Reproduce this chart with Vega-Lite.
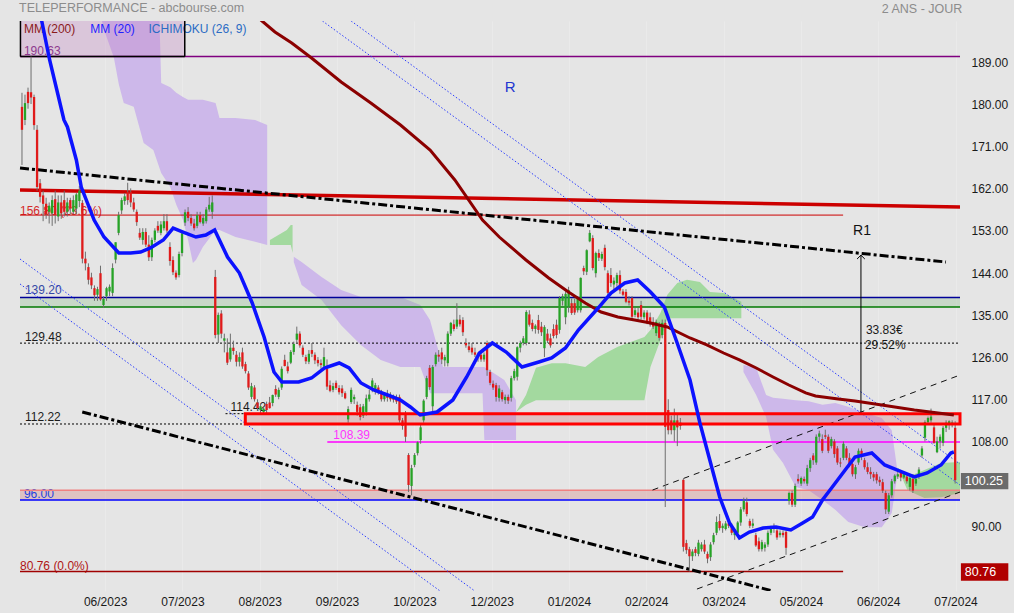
{
"$schema":"https://vega.github.io/schema/vega-lite/v6.json",
"width":950,"height":570,
"autosize":{"type":"none"},
"padding":{"left":15,"top":21,"right":49,"bottom":22},
"background":"#e5e5e5",
"config":{"view":{"stroke":null},"text":{"font":"Liberation Sans"},"axis":{"labelFont":"Liberation Sans"}},
"resolve":{"scale":{"color":"independent"}},
"datasets":{
"candles":[
{"i":5,"o":179.9,"h":182.9,"l":167.5,"c":175.0},
{"i":6,"o":177.1,"h":182.5,"l":176.0,"c":180.7},
{"i":7,"o":183.1,"h":184.0,"l":179.5,"c":180.7},
{"i":8,"o":183.0,"h":190.63,"l":180.5,"c":181.9},
{"i":9,"o":182.0,"h":182.5,"l":175.0,"c":176.0},
{"i":10,"o":175.0,"h":176.0,"l":162.0,"c":162.8},
{"i":11,"o":163.6,"h":164.5,"l":159.5,"c":160.7},
{"i":12,"o":161.0,"h":162.0,"l":155.5,"c":159.2},
{"i":13,"o":159.2,"h":160.5,"l":156.0,"c":157.0},
{"i":14,"o":157.5,"h":159.5,"l":155.0,"c":158.8},
{"i":15,"o":157.2,"h":161.0,"l":154.5,"c":160.0},
{"i":16,"o":160.2,"h":162.0,"l":155.0,"c":156.8},
{"i":17,"o":156.5,"h":161.0,"l":155.5,"c":159.5},
{"i":18,"o":159.5,"h":161.0,"l":156.0,"c":157.2},
{"i":19,"o":160.0,"h":162.0,"l":156.5,"c":157.5},
{"i":20,"o":157.5,"h":160.5,"l":156.5,"c":159.5},
{"i":21,"o":160.0,"h":160.5,"l":157.0,"c":158.2},
{"i":22,"o":157.5,"h":161.0,"l":157.0,"c":160.0},
{"i":23,"o":158.2,"h":161.5,"l":157.0,"c":161.2},
{"i":24,"o":159.8,"h":163.0,"l":158.5,"c":162.0},
{"i":25,"o":159.4,"h":160.0,"l":146.5,"c":147.5},
{"i":26,"o":147.5,"h":149.0,"l":145.0,"c":146.5},
{"i":27,"o":145.7,"h":146.5,"l":142.0,"c":143.0},
{"i":28,"o":143.5,"h":144.5,"l":141.0,"c":141.8},
{"i":29,"o":141.2,"h":141.8,"l":138.5,"c":139.7},
{"i":30,"o":139.8,"h":141.5,"l":138.5,"c":141.0},
{"i":31,"o":144.4,"h":146.0,"l":138.5,"c":138.8},
{"i":32,"o":137.6,"h":139.5,"l":137.0,"c":138.9},
{"i":33,"o":139.5,"h":141.5,"l":138.5,"c":141.2},
{"i":34,"o":140.5,"h":142.0,"l":139.5,"c":141.5},
{"i":35,"o":140.2,"h":146.5,"l":139.5,"c":145.5},
{"i":36,"o":147.3,"h":151.0,"l":146.5,"c":151.0},
{"i":37,"o":153.0,"h":157.5,"l":152.5,"c":156.8},
{"i":38,"o":157.8,"h":160.5,"l":157.0,"c":160.0},
{"i":39,"o":159.8,"h":161.5,"l":159.0,"c":160.8},
{"i":40,"o":161.7,"h":163.7,"l":159.0,"c":160.0},
{"i":41,"o":161.7,"h":162.5,"l":158.5,"c":159.5},
{"i":42,"o":159.5,"h":160.5,"l":157.5,"c":158.0},
{"i":43,"o":157.5,"h":158.0,"l":154.5,"c":155.3},
{"i":44,"o":153.0,"h":154.0,"l":151.5,"c":152.0},
{"i":45,"o":151.5,"h":154.0,"l":150.5,"c":153.2},
{"i":46,"o":153.2,"h":154.0,"l":150.0,"c":150.5},
{"i":47,"o":150.5,"h":152.5,"l":147.0,"c":147.8},
{"i":48,"o":147.8,"h":152.0,"l":147.0,"c":151.5},
{"i":49,"o":151.5,"h":154.0,"l":151.0,"c":153.5},
{"i":50,"o":154.5,"h":155.5,"l":153.0,"c":153.5},
{"i":51,"o":153.0,"h":155.5,"l":152.5,"c":154.8},
{"i":52,"o":154.0,"h":157.0,"l":153.5,"c":155.5},
{"i":53,"o":155.5,"h":157.0,"l":153.0,"c":153.5},
{"i":54,"o":150.0,"h":151.0,"l":146.0,"c":147.0},
{"i":55,"o":147.2,"h":148.0,"l":144.0,"c":144.6},
{"i":56,"o":144.5,"h":145.0,"l":143.0,"c":143.5},
{"i":57,"o":144.0,"h":149.0,"l":143.5,"c":148.5},
{"i":58,"o":148.7,"h":153.2,"l":148.0,"c":152.9},
{"i":59,"o":155.2,"h":158.0,"l":154.5,"c":157.4},
{"i":60,"o":157.5,"h":158.5,"l":155.5,"c":156.2},
{"i":61,"o":156.2,"h":157.0,"l":154.5,"c":155.0},
{"i":62,"o":155.0,"h":156.0,"l":153.5,"c":154.0},
{"i":63,"o":154.5,"h":157.5,"l":154.0,"c":156.8},
{"i":64,"o":156.8,"h":157.5,"l":155.0,"c":155.3},
{"i":65,"o":155.0,"h":157.0,"l":154.5,"c":156.2},
{"i":66,"o":155.5,"h":158.5,"l":155.0,"c":158.0},
{"i":67,"o":158.0,"h":160.7,"l":157.5,"c":159.0},
{"i":68,"o":157.5,"h":161.0,"l":156.0,"c":159.5},
{"i":69,"o":143.6,"h":145.1,"l":130.5,"c":131.2},
{"i":70,"o":131.3,"h":136.0,"l":129.5,"c":135.5},
{"i":71,"o":135.8,"h":136.5,"l":130.5,"c":131.5},
{"i":72,"o":130.0,"h":131.5,"l":127.5,"c":130.5},
{"i":73,"o":127.5,"h":130.5,"l":124.8,"c":125.3},
{"i":74,"o":126.0,"h":131.5,"l":125.5,"c":128.5},
{"i":75,"o":128.5,"h":130.0,"l":127.0,"c":127.8},
{"i":76,"o":127.0,"h":127.8,"l":124.5,"c":125.5},
{"i":77,"o":125.5,"h":127.5,"l":124.5,"c":126.5},
{"i":78,"o":127.5,"h":128.5,"l":124.0,"c":124.5},
{"i":79,"o":125.0,"h":125.5,"l":123.0,"c":123.5},
{"i":80,"o":123.0,"h":123.5,"l":119.5,"c":120.0},
{"i":81,"o":118.0,"h":121.0,"l":117.5,"c":120.3},
{"i":82,"o":120.0,"h":120.5,"l":117.0,"c":117.5},
{"i":83,"o":116.8,"h":117.5,"l":115.0,"c":115.6},
{"i":84,"o":115.2,"h":116.5,"l":114.6,"c":116.0},
{"i":85,"o":114.8,"h":116.0,"l":114.42,"c":115.5},
{"i":86,"o":116.5,"h":117.0,"l":114.5,"c":115.2},
{"i":87,"o":116.8,"h":118.0,"l":115.5,"c":115.6},
{"i":88,"o":116.7,"h":118.5,"l":116.0,"c":118.4},
{"i":89,"o":119.7,"h":120.5,"l":118.0,"c":118.5},
{"i":90,"o":118.0,"h":120.0,"l":117.5,"c":119.5},
{"i":91,"o":120.0,"h":124.5,"l":119.5,"c":124.0},
{"i":92,"o":125.9,"h":127.0,"l":124.5,"c":124.6},
{"i":93,"o":124.5,"h":125.5,"l":123.0,"c":123.5},
{"i":94,"o":125.3,"h":128.0,"l":125.0,"c":127.6},
{"i":95,"o":127.6,"h":129.8,"l":127.0,"c":129.3},
{"i":96,"o":130.2,"h":133.0,"l":129.5,"c":131.5},
{"i":97,"o":131.5,"h":132.0,"l":128.5,"c":129.0},
{"i":98,"o":128.5,"h":129.0,"l":126.5,"c":127.0},
{"i":99,"o":126.5,"h":127.0,"l":125.0,"c":125.6},
{"i":100,"o":125.5,"h":128.0,"l":125.0,"c":127.2},
{"i":101,"o":128.0,"h":129.5,"l":126.5,"c":127.2},
{"i":102,"o":127.0,"h":127.5,"l":125.0,"c":125.8},
{"i":103,"o":125.9,"h":126.5,"l":124.5,"c":125.2},
{"i":104,"o":125.2,"h":126.0,"l":124.0,"c":124.8},
{"i":105,"o":124.5,"h":128.5,"l":124.0,"c":126.5},
{"i":106,"o":124.0,"h":126.0,"l":119.5,"c":120.2},
{"i":107,"o":120.5,"h":121.5,"l":119.0,"c":119.3},
{"i":108,"o":119.5,"h":121.0,"l":119.0,"c":120.3},
{"i":109,"o":121.0,"h":121.5,"l":119.5,"c":119.9},
{"i":110,"o":119.9,"h":120.5,"l":118.5,"c":119.0},
{"i":111,"o":119.8,"h":120.5,"l":118.0,"c":118.8},
{"i":112,"o":118.8,"h":119.2,"l":117.5,"c":117.7},
{"i":113,"o":113.2,"h":116.0,"l":112.5,"c":115.4},
{"i":114,"o":116.9,"h":120.0,"l":116.5,"c":119.5},
{"i":115,"o":117.5,"h":118.5,"l":116.5,"c":118.0},
{"i":116,"o":116.3,"h":117.0,"l":114.0,"c":114.8},
{"i":117,"o":115.8,"h":116.5,"l":113.0,"c":113.7},
{"i":118,"o":114.0,"h":116.5,"l":113.5,"c":116.0},
{"i":119,"o":114.8,"h":118.5,"l":114.0,"c":117.7},
{"i":120,"o":117.5,"h":119.5,"l":117.0,"c":118.5},
{"i":121,"o":120.0,"h":122.0,"l":119.0,"c":121.5},
{"i":122,"o":119.5,"h":121.0,"l":118.5,"c":120.5},
{"i":123,"o":120.0,"h":120.5,"l":118.5,"c":119.0},
{"i":124,"o":119.0,"h":119.5,"l":117.0,"c":117.5},
{"i":125,"o":117.5,"h":119.0,"l":117.0,"c":118.5},
{"i":126,"o":118.5,"h":119.5,"l":117.0,"c":117.8},
{"i":127,"o":118.0,"h":119.0,"l":117.0,"c":117.5},
{"i":128,"o":117.8,"h":118.5,"l":116.8,"c":117.4},
{"i":129,"o":117.5,"h":118.5,"l":116.5,"c":117.0},
{"i":130,"o":118.0,"h":118.5,"l":112.5,"c":113.0},
{"i":131,"o":113.0,"h":113.5,"l":111.0,"c":111.8},
{"i":132,"o":114.5,"h":115.0,"l":108.39,"c":109.5},
{"i":133,"o":105.6,"h":106.0,"l":97.7,"c":99.2},
{"i":134,"o":99.0,"h":103.5,"l":97.0,"c":102.8},
{"i":135,"o":103.5,"h":106.0,"l":103.0,"c":105.6},
{"i":136,"o":106.0,"h":108.5,"l":105.5,"c":108.3},
{"i":137,"o":108.8,"h":112.0,"l":108.0,"c":111.5},
{"i":138,"o":113.0,"h":117.5,"l":112.5,"c":117.2},
{"i":139,"o":118.0,"h":122.5,"l":117.5,"c":122.0},
{"i":140,"o":124.2,"h":124.8,"l":119.5,"c":120.1},
{"i":141,"o":116.0,"h":124.8,"l":114.5,"c":124.4},
{"i":142,"o":125.0,"h":127.5,"l":124.5,"c":127.0},
{"i":143,"o":127.0,"h":128.0,"l":125.5,"c":126.6},
{"i":144,"o":127.5,"h":128.5,"l":125.0,"c":126.0},
{"i":145,"o":125.8,"h":127.0,"l":124.5,"c":126.5},
{"i":146,"o":125.2,"h":132.0,"l":124.5,"c":131.5},
{"i":147,"o":131.5,"h":134.0,"l":131.0,"c":133.8},
{"i":148,"o":133.5,"h":134.5,"l":132.0,"c":132.5},
{"i":149,"o":133.0,"h":138.0,"l":132.5,"c":134.5},
{"i":150,"o":134.5,"h":135.5,"l":133.0,"c":133.5},
{"i":151,"o":134.4,"h":135.0,"l":131.0,"c":131.8},
{"i":152,"o":129.5,"h":130.5,"l":128.5,"c":129.0},
{"i":153,"o":128.8,"h":129.5,"l":127.5,"c":128.0},
{"i":154,"o":128.5,"h":129.5,"l":127.0,"c":127.5},
{"i":155,"o":127.5,"h":128.5,"l":126.5,"c":127.0},
{"i":156,"o":126.5,"h":127.5,"l":125.5,"c":127.2},
{"i":157,"o":127.0,"h":127.5,"l":125.5,"c":126.0},
{"i":158,"o":126.0,"h":127.5,"l":125.5,"c":127.0},
{"i":159,"o":129.5,"h":130.0,"l":122.5,"c":123.7},
{"i":160,"o":123.3,"h":123.8,"l":120.5,"c":121.0},
{"i":161,"o":120.8,"h":121.5,"l":119.5,"c":120.0},
{"i":162,"o":120.5,"h":121.0,"l":117.0,"c":118.0},
{"i":163,"o":117.8,"h":120.5,"l":117.0,"c":119.8},
{"i":164,"o":119.0,"h":119.5,"l":117.0,"c":117.5},
{"i":165,"o":117.3,"h":118.5,"l":116.5,"c":118.0},
{"i":166,"o":118.0,"h":118.5,"l":116.5,"c":117.2},
{"i":167,"o":117.8,"h":122.5,"l":117.0,"c":122.0},
{"i":168,"o":122.0,"h":124.0,"l":121.5,"c":123.5},
{"i":169,"o":122.3,"h":128.8,"l":121.5,"c":128.6},
{"i":170,"o":128.5,"h":130.0,"l":127.5,"c":129.5},
{"i":171,"o":129.5,"h":131.0,"l":129.0,"c":130.5},
{"i":172,"o":129.5,"h":136.5,"l":129.0,"c":136.1},
{"i":173,"o":135.6,"h":136.5,"l":133.0,"c":133.4},
{"i":174,"o":133.8,"h":134.5,"l":132.0,"c":132.5},
{"i":175,"o":132.5,"h":133.5,"l":131.5,"c":133.2},
{"i":176,"o":134.4,"h":135.5,"l":131.5,"c":132.3},
{"i":177,"o":133.0,"h":134.0,"l":131.0,"c":131.8},
{"i":178,"o":128.4,"h":133.3,"l":126.5,"c":132.9},
{"i":179,"o":131.5,"h":132.5,"l":129.5,"c":130.0},
{"i":180,"o":130.5,"h":131.5,"l":128.5,"c":129.0},
{"i":181,"o":132.5,"h":133.5,"l":130.5,"c":131.0},
{"i":182,"o":133.4,"h":134.5,"l":130.5,"c":131.2},
{"i":183,"o":132.3,"h":139.5,"l":131.5,"c":139.1},
{"i":184,"o":138.5,"h":140.0,"l":137.5,"c":139.5},
{"i":185,"o":135.0,"h":140.5,"l":133.5,"c":140.0},
{"i":186,"o":137.2,"h":141.5,"l":136.0,"c":140.8},
{"i":187,"o":138.0,"h":139.0,"l":135.5,"c":135.9},
{"i":188,"o":138.0,"h":139.0,"l":135.5,"c":136.0},
{"i":189,"o":136.5,"h":139.5,"l":136.0,"c":139.1},
{"i":190,"o":136.5,"h":143.5,"l":136.0,"c":143.4},
{"i":191,"o":145.5,"h":146.0,"l":144.0,"c":144.8},
{"i":192,"o":144.7,"h":149.5,"l":144.0,"c":149.3},
{"i":193,"o":151.2,"h":153.6,"l":151.0,"c":153.0},
{"i":194,"o":151.9,"h":152.5,"l":145.0,"c":145.5},
{"i":195,"o":144.4,"h":149.0,"l":143.5,"c":148.7},
{"i":196,"o":148.7,"h":149.5,"l":147.0,"c":147.7},
{"i":197,"o":147.5,"h":149.0,"l":147.0,"c":148.5},
{"i":198,"o":149.8,"h":150.5,"l":145.0,"c":145.7},
{"i":199,"o":144.4,"h":145.0,"l":139.5,"c":140.2},
{"i":200,"o":144.0,"h":145.5,"l":141.5,"c":142.3},
{"i":201,"o":142.0,"h":143.5,"l":141.0,"c":142.8},
{"i":202,"o":142.3,"h":144.5,"l":141.5,"c":144.0},
{"i":203,"o":144.0,"h":145.0,"l":140.0,"c":140.7},
{"i":204,"o":140.5,"h":141.0,"l":139.5,"c":139.8},
{"i":205,"o":140.4,"h":141.0,"l":138.0,"c":138.3},
{"i":206,"o":138.5,"h":139.5,"l":137.5,"c":138.1},
{"i":207,"o":139.1,"h":139.5,"l":134.5,"c":135.1},
{"i":208,"o":135.5,"h":137.0,"l":135.0,"c":136.5},
{"i":209,"o":136.0,"h":137.0,"l":134.5,"c":135.0},
{"i":210,"o":137.6,"h":138.5,"l":134.5,"c":135.1},
{"i":211,"o":135.0,"h":136.5,"l":134.5,"c":136.0},
{"i":212,"o":136.0,"h":136.5,"l":133.5,"c":134.0},
{"i":213,"o":135.0,"h":136.0,"l":133.0,"c":133.5},
{"i":214,"o":134.0,"h":135.0,"l":132.5,"c":133.0},
{"i":215,"o":131.6,"h":134.5,"l":131.0,"c":134.0},
{"i":216,"o":133.3,"h":134.0,"l":130.0,"c":130.6},
{"i":217,"o":131.2,"h":134.5,"l":130.5,"c":133.8},
{"i":218,"o":133.8,"h":134.5,"l":94.5,"c":111.6},
{"i":219,"o":115.2,"h":117.5,"l":110.0,"c":110.9},
{"i":220,"o":113.0,"h":114.0,"l":110.0,"c":110.9},
{"i":221,"o":110.9,"h":115.5,"l":108.5,"c":113.0},
{"i":222,"o":113.0,"h":114.5,"l":107.5,"c":111.5},
{"i":223,"o":112.5,"h":113.5,"l":111.0,"c":111.8},
{"i":224,"o":100.3,"h":100.5,"l":85.0,"c":86.0},
{"i":225,"o":86.8,"h":87.5,"l":84.5,"c":85.3},
{"i":226,"o":85.5,"h":86.0,"l":80.76,"c":84.0},
{"i":227,"o":84.0,"h":85.5,"l":83.0,"c":85.0},
{"i":228,"o":85.5,"h":86.0,"l":84.0,"c":84.7},
{"i":229,"o":84.5,"h":87.5,"l":84.0,"c":86.9},
{"i":230,"o":85.5,"h":87.0,"l":85.0,"c":86.5},
{"i":231,"o":86.5,"h":87.5,"l":84.5,"c":85.0},
{"i":232,"o":84.5,"h":85.0,"l":82.5,"c":83.5},
{"i":233,"o":83.8,"h":87.0,"l":83.0,"c":86.5},
{"i":234,"o":87.0,"h":89.0,"l":86.5,"c":88.5},
{"i":235,"o":89.0,"h":92.5,"l":88.5,"c":91.3},
{"i":236,"o":91.5,"h":93.0,"l":89.5,"c":90.0},
{"i":237,"o":90.0,"h":91.0,"l":89.0,"c":90.5},
{"i":238,"o":89.8,"h":91.5,"l":89.5,"c":91.0},
{"i":239,"o":91.0,"h":92.0,"l":90.0,"c":90.5},
{"i":240,"o":90.5,"h":91.0,"l":88.5,"c":89.0},
{"i":241,"o":88.5,"h":89.8,"l":87.5,"c":89.5},
{"i":242,"o":89.0,"h":91.5,"l":88.5,"c":91.2},
{"i":243,"o":91.2,"h":94.5,"l":90.5,"c":94.0},
{"i":244,"o":94.0,"h":96.5,"l":93.5,"c":95.8},
{"i":245,"o":95.5,"h":96.5,"l":92.5,"c":93.0},
{"i":246,"o":91.5,"h":92.0,"l":90.0,"c":90.5},
{"i":247,"o":90.5,"h":92.0,"l":90.0,"c":91.0},
{"i":248,"o":88.5,"h":89.0,"l":86.0,"c":86.3},
{"i":249,"o":87.2,"h":88.0,"l":85.0,"c":85.5},
{"i":250,"o":85.5,"h":87.5,"l":85.0,"c":87.0},
{"i":251,"o":85.8,"h":87.0,"l":85.0,"c":86.5},
{"i":252,"o":86.5,"h":89.5,"l":86.0,"c":89.0},
{"i":253,"o":89.0,"h":90.5,"l":88.5,"c":90.0},
{"i":254,"o":90.0,"h":91.0,"l":89.0,"c":90.3},
{"i":255,"o":89.5,"h":90.0,"l":87.5,"c":88.0},
{"i":256,"o":88.5,"h":89.5,"l":88.0,"c":89.0},
{"i":257,"o":89.0,"h":89.5,"l":88.0,"c":88.5},
{"i":258,"o":89.2,"h":89.5,"l":84.3,"c":85.8},
{"i":259,"o":95.8,"h":97.8,"l":95.0,"c":97.5},
{"i":260,"o":97.5,"h":98.0,"l":94.5,"c":95.0},
{"i":261,"o":95.0,"h":99.5,"l":94.5,"c":99.0},
{"i":262,"o":100.5,"h":101.5,"l":99.5,"c":100.0},
{"i":263,"o":99.5,"h":101.0,"l":99.0,"c":100.7},
{"i":264,"o":100.5,"h":101.0,"l":99.5,"c":100.0},
{"i":265,"o":99.5,"h":103.5,"l":99.0,"c":102.8},
{"i":266,"o":102.8,"h":105.0,"l":102.0,"c":104.5},
{"i":267,"o":105.5,"h":106.0,"l":103.5,"c":104.5},
{"i":268,"o":104.0,"h":110.0,"l":103.5,"c":109.5},
{"i":269,"o":109.5,"h":110.8,"l":108.5,"c":110.2},
{"i":270,"o":109.0,"h":110.0,"l":106.0,"c":106.5},
{"i":271,"o":109.8,"h":111.0,"l":109.0,"c":109.5},
{"i":272,"o":109.5,"h":110.0,"l":106.0,"c":106.5},
{"i":273,"o":107.5,"h":109.5,"l":107.0,"c":109.0},
{"i":274,"o":108.5,"h":109.0,"l":105.0,"c":105.8},
{"i":275,"o":107.0,"h":107.5,"l":103.5,"c":104.0},
{"i":276,"o":104.0,"h":105.0,"l":103.0,"c":103.8},
{"i":277,"o":105.0,"h":108.5,"l":104.5,"c":108.0},
{"i":278,"o":107.0,"h":107.5,"l":104.5,"c":105.0},
{"i":279,"o":105.0,"h":106.0,"l":103.0,"c":103.5},
{"i":280,"o":103.7,"h":104.5,"l":101.0,"c":101.5},
{"i":281,"o":101.5,"h":103.5,"l":100.5,"c":103.0},
{"i":282,"o":104.0,"h":107.0,"l":103.5,"c":106.5},
{"i":283,"o":106.5,"h":107.0,"l":104.5,"c":105.5},
{"i":284,"o":104.5,"h":105.0,"l":102.5,"c":103.0},
{"i":285,"o":103.0,"h":104.0,"l":101.5,"c":102.0},
{"i":286,"o":102.0,"h":103.0,"l":100.5,"c":101.5},
{"i":287,"o":101.5,"h":102.0,"l":100.0,"c":100.8},
{"i":288,"o":101.5,"h":102.0,"l":99.5,"c":100.2},
{"i":289,"o":100.3,"h":101.0,"l":99.0,"c":99.8},
{"i":290,"o":99.8,"h":100.5,"l":97.5,"c":98.0},
{"i":291,"o":97.5,"h":98.0,"l":93.0,"c":94.0},
{"i":292,"o":93.5,"h":97.5,"l":93.0,"c":97.0},
{"i":293,"o":97.0,"h":100.5,"l":96.5,"c":100.0},
{"i":294,"o":100.0,"h":101.5,"l":99.5,"c":101.2},
{"i":295,"o":101.0,"h":102.5,"l":100.5,"c":101.5},
{"i":296,"o":101.8,"h":102.0,"l":100.0,"c":100.8},
{"i":297,"o":100.8,"h":102.0,"l":100.5,"c":101.5},
{"i":298,"o":101.0,"h":101.5,"l":99.5,"c":100.0},
{"i":299,"o":98.8,"h":101.0,"l":98.0,"c":100.7},
{"i":300,"o":100.5,"h":101.5,"l":97.5,"c":98.0},
{"i":301,"o":99.5,"h":101.0,"l":99.0,"c":100.5},
{"i":302,"o":101.0,"h":103.0,"l":100.5,"c":102.5},
{"i":303,"o":105.5,"h":107.5,"l":105.0,"c":107.0},
{"i":304,"o":109.3,"h":113.0,"l":108.5,"c":112.6},
{"i":305,"o":112.6,"h":113.8,"l":112.0,"c":113.5},
{"i":306,"o":113.0,"h":115.5,"l":112.5,"c":113.8},
{"i":307,"o":111.5,"h":112.0,"l":108.0,"c":108.2},
{"i":308,"o":106.2,"h":109.5,"l":106.0,"c":108.5},
{"i":309,"o":108.5,"h":110.0,"l":107.0,"c":109.5},
{"i":310,"o":108.2,"h":111.8,"l":107.5,"c":111.4},
{"i":311,"o":111.4,"h":113.0,"l":110.5,"c":112.5},
{"i":312,"o":112.0,"h":113.0,"l":111.0,"c":112.8},
{"i":313,"o":112.5,"h":113.0,"l":111.5,"c":112.6},
{"i":314,"o":111.4,"h":112.8,"l":99.5,"c":100.25}
],
"mm20":[
{"i":9.25,"p":205.9},{"i":11.54,"p":198.22},{"i":14.16,"p":189.9},{"i":16.78,"p":182.85},{"i":18.9,"p":177.09},{"i":20.05,"p":175.6},{"i":23.0,"p":168.56},{"i":24.63,"p":162.79},{"i":28.89,"p":155.75},{"i":32.16,"p":152.12},{"i":37.07,"p":148.71},{"i":41.0,"p":148.71},{"i":44.27,"p":148.92},{"i":47.54,"p":149.78},{"i":51.8,"p":151.48},{"i":55.06,"p":154.04},{"i":58.33,"p":153.19},{"i":62.6,"p":152.12},{"i":65.86,"p":152.55},{"i":68.8,"p":153.62},{"i":73.06,"p":147.86},{"i":77.0,"p":144.44},{"i":81.24,"p":138.04},{"i":85.17,"p":130.78},{"i":88.44,"p":123.32},{"i":91.06,"p":121.18},{"i":96.62,"p":121.18},{"i":100.87,"p":122.03},{"i":105.13,"p":124.17},{"i":110.04,"p":125.24},{"i":113.31,"p":124.17},{"i":117.24,"p":120.97},{"i":121.49,"p":119.47},{"i":126.07,"p":118.41},{"i":130.33,"p":117.34},{"i":133.6,"p":115.85},{"i":136.87,"p":114.14},{"i":142.44,"p":114.78},{"i":147.67,"p":117.34},{"i":152.25,"p":122.25},{"i":156.5,"p":127.37},{"i":160.76,"p":129.5},{"i":165.34,"p":127.58},{"i":170.57,"p":124.38},{"i":176.14,"p":125.45},{"i":180.39,"p":126.3},{"i":184.97,"p":128.44},{"i":189.23,"p":132.28},{"i":195.77,"p":136.97},{"i":200.02,"p":140.17},{"i":204.6,"p":142.31},{"i":208.86,"p":142.95},{"i":213.11,"p":140.39},{"i":217.69,"p":137.19},{"i":221.95,"p":129.5},{"i":226.2,"p":121.61},{"i":229.48,"p":112.43},{"i":232.75,"p":104.54},{"i":236.02,"p":96.64},{"i":239.29,"p":91.09},{"i":242.57,"p":87.89},{"i":245.84,"p":89.17},{"i":250.42,"p":90.02},{"i":254.67,"p":90.24},{"i":259.58,"p":89.6},{"i":263.5,"p":91.09},{"i":266.78,"p":92.37},{"i":270.05,"p":96.0},{"i":273.32,"p":98.77},{"i":277.57,"p":102.4},{"i":280.84,"p":105.18},{"i":286.4,"p":106.03},{"i":290.66,"p":103.47},{"i":294.91,"p":102.4},{"i":300.48,"p":100.91},{"i":304.73,"p":101.76},{"i":309.31,"p":103.47},{"i":312.58,"p":106.03},{"i":313.57,"p":106.24}
],
"mm200":[
{"i":82.9,"p":199.07},{"i":84.5,"p":198.22},{"i":88.77,"p":195.87},{"i":94.33,"p":193.52},{"i":100.88,"p":190.32},{"i":110.69,"p":185.2},{"i":120.51,"p":180.72},{"i":130.33,"p":176.02},{"i":140.14,"p":170.69},{"i":148.33,"p":164.29},{"i":157.49,"p":155.75},{"i":163.05,"p":152.12},{"i":171.88,"p":147.22},{"i":179.41,"p":143.37},{"i":185.95,"p":140.39},{"i":191.52,"p":138.04},{"i":196.75,"p":136.12},{"i":202.31,"p":135.05},{"i":207.87,"p":134.41},{"i":213.11,"p":133.77},{"i":218.67,"p":132.92},{"i":226.2,"p":130.57},{"i":231.76,"p":129.08},{"i":237.33,"p":127.37},{"i":242.57,"p":125.88},{"i":248.13,"p":124.17},{"i":253.7,"p":122.25},{"i":258.93,"p":120.54},{"i":264.5,"p":118.84},{"i":267.77,"p":118.19},{"i":275.3,"p":117.55},{"i":280.84,"p":117.13},{"i":289.68,"p":116.27},{"i":300.48,"p":115.21},{"i":313.57,"p":114.14}
],
"cloud":[
{"s":"P1","k":"p","i":31.2,"p":199,"p2":199},{"s":"P1","k":"p","i":32.2,"p":199,"p2":196.3},{"s":"P1","k":"p","i":35.4,"p":199,"p2":190.5},{"s":"P1","k":"p","i":37.1,"p":199,"p2":184.6},{"s":"P1","k":"p","i":38.7,"p":199,"p2":180.7},{"s":"P1","k":"p","i":42.0,"p":199,"p2":179.9},{"s":"P1","k":"p","i":45.3,"p":199,"p2":172.2},{"s":"P1","k":"p","i":48.5,"p":199,"p2":170.7},{"s":"P1","k":"p","i":50.5,"p":199,"p2":166.9},{"s":"P1","k":"p","i":51.1,"p":185.0,"p2":165.8},{"s":"P1","k":"p","i":54.1,"p":184.1,"p2":162.8},{"s":"P1","k":"p","i":56.1,"p":182.9,"p2":159.0},{"s":"P1","k":"p","i":58.3,"p":182.0,"p2":155.8},{"s":"P1","k":"p","i":60.0,"p":181.4,"p2":151.5},{"s":"P1","k":"p","i":61.6,"p":181.4,"p2":146.6},{"s":"P1","k":"p","i":62.6,"p":181.4,"p2":147.2},{"s":"P1","k":"p","i":64.9,"p":181.4,"p2":150.0},{"s":"P1","k":"p","i":69.1,"p":180.7,"p2":153.6},{"s":"P1","k":"p","i":70.4,"p":177.5,"p2":153.6},{"s":"P1","k":"p","i":75.7,"p":177.5,"p2":152.1},{"s":"P1","k":"p","i":82.2,"p":177.1,"p2":151.1},{"s":"P1","k":"p","i":86.2,"p":176.0,"p2":150.4},
{"s":"G1","k":"g","i":87.1,"p":151.5,"p2":150.4},{"s":"G1","k":"g","i":92.7,"p":153.6,"p2":150.4},{"s":"G1","k":"g","i":94.0,"p":154.7,"p2":150.4},{"s":"G1","k":"g","i":94.6,"p":154.7,"p2":148.7},
{"s":"P2","k":"p","i":95.0,"p":147.9,"p2":146.8},{"s":"P2","k":"p","i":97.6,"p":146.8,"p2":141.9},{"s":"P2","k":"p","i":104.2,"p":143.6,"p2":138.7},{"s":"P2","k":"p","i":110.7,"p":140.8,"p2":133.3},{"s":"P2","k":"p","i":117.2,"p":139.3,"p2":129.1},{"s":"P2","k":"p","i":123.8,"p":139.3,"p2":125.9},{"s":"P2","k":"p","i":130.3,"p":139.3,"p2":124.4},{"s":"P2","k":"p","i":136.9,"p":137.6,"p2":124.4},{"s":"P2","k":"p","i":140.1,"p":134.4,"p2":118.8},{"s":"P2","k":"p","i":144.4,"p":124.4,"p2":118.8},{"s":"P2","k":"p","i":157.5,"p":124.4,"p2":118.8},{"s":"P2","k":"p","i":158.1,"p":124.4,"p2":108.8},{"s":"P2","k":"p","i":164.7,"p":121.6,"p2":108.8},{"s":"P2","k":"p","i":168.6,"p":117.3,"p2":108.8},
{"s":"G2","k":"g","i":168.6,"p":114.8,"p2":114.8},{"s":"G2","k":"g","i":171.9,"p":118.4,"p2":116.3},{"s":"G2","k":"g","i":175.2,"p":124.2,"p2":117.3},{"s":"G2","k":"g","i":180.4,"p":125.2,"p2":117.3},{"s":"G2","k":"g","i":185.0,"p":125.2,"p2":117.3},{"s":"G2","k":"g","i":191.5,"p":124.4,"p2":117.3},{"s":"G2","k":"g","i":195.8,"p":126.5,"p2":117.3},{"s":"G2","k":"g","i":202.3,"p":128.7,"p2":117.3},{"s":"G2","k":"g","i":211.1,"p":130.8,"p2":117.3},{"s":"G2","k":"g","i":213.1,"p":132.3,"p2":124.4},{"s":"G2","k":"g","i":216.4,"p":135.9,"p2":130.1},{"s":"G2","k":"g","i":218.7,"p":139.8,"p2":134.8},{"s":"G2","k":"g","i":222.0,"p":142.3,"p2":134.8},{"s":"G2","k":"g","i":225.2,"p":143.0,"p2":134.8},{"s":"G2","k":"g","i":229.5,"p":142.5,"p2":134.8},{"s":"G2","k":"g","i":232.8,"p":140.4,"p2":134.8},{"s":"G2","k":"g","i":237.3,"p":140.2,"p2":134.8},{"s":"G2","k":"g","i":243.2,"p":138.3,"p2":134.8},
{"s":"P3","k":"p","i":243.9,"p":124.8,"p2":123.3},{"s":"P3","k":"p","i":248.1,"p":124.2,"p2":118.4},{"s":"P3","k":"p","i":251.4,"p":118.4,"p2":113.7},{"s":"P3","k":"p","i":253.7,"p":117.8,"p2":106.7},{"s":"P3","k":"p","i":257.0,"p":117.6,"p2":103.9},{"s":"P3","k":"p","i":261.2,"p":117.3,"p2":98.8},{"s":"P3","k":"p","i":265.5,"p":117.1,"p2":98.1},{"s":"P3","k":"p","i":270.1,"p":116.3,"p2":96.0},{"s":"P3","k":"p","i":274.3,"p":116.7,"p2":93.9},{"s":"P3","k":"p","i":278.6,"p":115.9,"p2":91.3},{"s":"P3","k":"p","i":284.1,"p":114.6,"p2":90.2},{"s":"P3","k":"p","i":289.7,"p":113.5,"p2":90.2},{"s":"P3","k":"p","i":293.0,"p":110.9,"p2":93.2},{"s":"P3","k":"p","i":294.6,"p":103.5,"p2":100.3},{"s":"P3","k":"p","i":294.9,"p":102.0,"p2":101.0},
{"s":"G3","k":"g","i":294.9,"p":103.0,"p2":103.0},{"s":"G3","k":"g","i":298.2,"p":100.9,"p2":98.1},{"s":"G3","k":"g","i":303.8,"p":102.4,"p2":96.4},{"s":"G3","k":"g","i":309.3,"p":103.9,"p2":96.6},{"s":"G3","k":"g","i":315.6,"p":104.1,"p2":97.5}
],
"bands":[
{"k":"green","i":4.345,"i2":315.6,"p":137.2,"p2":139.2},
{"k":"red","i":78.95,"i2":315.6,"p":112.22,"p2":114.42},
{"k":"pink","i":4.345,"i2":315.6,"p":96.0,"p2":98.1},
{"k":"legend","i":4.5,"i2":58.9,"p":190.63,"p2":198.22}
],
"segs":[
{"k":"pur","i":4.345,"i2":315.6,"p":190.63,"p2":190.63},
{"k":"box","i":4.5,"i2":58.9,"p":190.63,"p2":190.63},
{"k":"box","i":4.5,"i2":4.5,"p":190.63,"p2":198.22},
{"k":"box","i":58.9,"i2":58.9,"p":190.63,"p2":198.22},
{"k":"redthick","i":4.345,"i2":315.6,"p":162.15,"p2":158.53},
{"k":"redthin","i":4.345,"i2":276.9,"p":156.8,"p2":156.8},
{"k":"bluetop","i":4.345,"i2":315.6,"p":139.2,"p2":139.2},
{"k":"greenbot","i":4.345,"i2":315.6,"p":137.2,"p2":137.2},
{"k":"dot","i":4.345,"i2":315.6,"p":129.48,"p2":129.48},
{"k":"dot","i":4.345,"i2":78.95,"p":112.22,"p2":112.22},
{"k":"dot","i":72.4,"i2":78.95,"p":114.42,"p2":114.42},
{"k":"mag","i":106.1,"i2":315.6,"p":108.39,"p2":108.39},
{"k":"pinktop","i":4.345,"i2":315.6,"p":98.1,"p2":98.1},
{"k":"blue96","i":4.345,"i2":315.6,"p":96.0,"p2":96.0},
{"k":"darkred","i":4.345,"i2":276.9,"p":80.76,"p2":80.76},
{"k":"dashdot","i":4.35,"i2":310.96,"p":166.85,"p2":146.79},
{"k":"dashdot","i":24.96,"i2":253.7,"p":114.78,"p2":76.58},
{"k":"dashed","i":213.8,"i2":315.6,"p":98.13,"p2":122.67},
{"k":"dashed","i":228.5,"i2":315.6,"p":77.0,"p2":97.7},
{"k":"bluedot","i":104.5,"i2":315.6,"p":198.22,"p2":99.2},
{"k":"bluedot","i":114.0,"i2":315.6,"p":198.22,"p2":103.68},
{"k":"bluedot","i":4.35,"i2":154.9,"p":147.43,"p2":76.6},
{"k":"bluedot","i":4.35,"i2":143.4,"p":142.1,"p2":76.6},
{"k":"arrow","i":282.8,"i2":282.8,"p":114.42,"p2":148.25}
],
"tags":[
{"k":"g","i":315.9,"i2":331.6,"p":98.28,"p2":101.76},
{"k":"r","i":315.9,"i2":331.6,"p":78.78,"p2":82.49}
],
"texts":[
{"k":"ttl","i":4.02,"p":200.93,"t":"TELEPERFORMANCE - abcbourse.com"},
{"k":"ttl","i":289.68,"p":200.78,"t":"2 ANS - JOUR"},
{"k":"m200","i":5.65,"p":196.45,"t":"MM (200)"},
{"k":"m20","i":27.58,"p":196.45,"t":"MM (20)"},
{"k":"ichi","i":46.89,"p":196.45,"t":"ICHIMOKU (26, 9)"},
{"k":"pur","i":5.65,"p":191.82,"t":"190.63"},
{"k":"red","i":4.35,"p":157.67,"t":"156.80 (23.6%)"},
{"k":"navy","i":5.98,"p":140.81,"t":"139.20"},
{"k":"blk","i":5.98,"p":130.85,"t":"129.48"},
{"k":"blk","i":74.04,"p":115.91,"t":"114.42"},
{"k":"blk","i":5.98,"p":113.65,"t":"112.22"},
{"k":"mag","i":108.1,"p":109.87,"t":"108.39"},
{"k":"blue","i":5.65,"p":97.28,"t":"96.00"},
{"k":"dred","i":4.35,"p":81.98,"t":"80.76  (0.0%)"},
{"k":"rblue","i":166.65,"p":184.13,"t":"R"},
{"k":"big","i":280.2,"p":153.4,"t":"R1"},
{"k":"blk","i":284.45,"p":132.28,"t":"33.83€"},
{"k":"blk","i":284.12,"p":129.08,"t":"29.52%"},
{"k":"wht","i":317.2,"p":99.95,"t":"100.25"},
{"k":"wht","i":317.2,"p":80.55,"t":"80.76"}
]
},
"encoding":{
"x":{"field":"i","type":"quantitative","title":null,"scale":{"domain":[4.345,315.6],"nice":false,"zero":false},
"axis":{"orient":"bottom","values":[32.53,58.13,83.73,109.33,134.93,160.53,186.13,211.73,237.33,262.93,288.53,314.13],"labelExpr":"['06/2023','07/2023','08/2023','09/2023','10/2023','12/2023','01/2024','02/2024','03/2024','05/2024','06/2024','07/2024'][round((datum.value-32.53)/25.6)]","grid":true,"gridColor":"#eaeaea","gridWidth":1,"ticks":false,"tickSize":0,"domain":false,"labelPadding":5,"labelFontSize":12,"labelColor":"#1a1a1a","labelFont":"Liberation Sans","labelOverlap":false,"labelFlush":false,"title":null}},
"y":{"field":"p","type":"quantitative","title":null,"scale":{"domain":[76.58,198.22],"nice":false,"zero":false},
"axis":{"orient":"right","values":[90,108,117,126,135,144,153,162,171,180,189],"format":".2f","grid":false,"ticks":false,"tickSize":0,"domain":false,"labelPadding":6,"labelFontSize":12,"labelColor":"#1a1a1a","labelFont":"Liberation Sans","labelOffset":-2,"labelOverlap":false,"title":null}}
},
"layer":[
{"data":{"name":"cloud"},"mark":{"type":"area","clip":true,"opacity":1},
 "encoding":{"y2":{"field":"p2"},"detail":{"field":"s"},
  "color":{"field":"k","type":"nominal","legend":null,"scale":{"domain":["p","g"],"range":["#cdb8ea","#a3d99f"]}}}},
{"data":{"name":"bands"},"mark":{"type":"rect","opacity":0.3},
 "encoding":{"x2":{"field":"i2"},"y2":{"field":"p2"},
  "color":{"field":"k","type":"nominal","legend":null,"scale":{"domain":["green","red","pink","legend"],"range":["#81ba81","#ce7070","#ce7070","#c07ec0"]}}}},
{"data":{"name":"texts"},"transform":[{"filter":"datum.k!='ttl' && datum.k!='rblue' && datum.k!='big' && datum.k!='wht'"}],
 "mark":{"type":"text","align":"left","baseline":"middle","fontSize":12,"font":"Liberation Sans"},
 "encoding":{"text":{"field":"t"},"color":{"field":"k","type":"nominal","legend":null,"scale":{"domain":["m200","m20","ichi","pur","red","navy","blk","mag","blue","dred"],"range":["#8b1a1a","#1f1fff","#2b6cc4","#8e3a8e","#d42a2a","#3549a6","#1a1a1a","#ff33ff","#2442e0","#b01515"]}}}},
{"data":{"name":"texts"},"transform":[{"filter":"datum.k=='ttl'"}],
 "mark":{"type":"text","align":"left","baseline":"middle","fontSize":12.5,"font":"Liberation Sans","color":"#8c8c8c"},
 "encoding":{"text":{"field":"t"}}},
{"data":{"name":"texts"},"transform":[{"filter":"datum.k=='rblue'"}],
 "mark":{"type":"text","align":"center","baseline":"middle","fontSize":15,"font":"Liberation Sans","color":"#2236d0"},
 "encoding":{"text":{"field":"t"}}},
{"data":{"name":"texts"},"transform":[{"filter":"datum.k=='big'"}],
 "mark":{"type":"text","align":"left","baseline":"middle","fontSize":14,"font":"Liberation Sans","color":"#111111"},
 "encoding":{"text":{"field":"t"}}},
{"data":{"name":"segs"},"transform":[{"filter":"datum.k=='pur'"}],"mark":{"type":"rule","color":"#800080","strokeWidth":1.5},"encoding":{"x2":{"field":"i2"},"y2":{"field":"p2"}}},
{"data":{"name":"segs"},"transform":[{"filter":"datum.k=='box'"}],"mark":{"type":"rule","color":"#000000","strokeWidth":1.5},"encoding":{"x2":{"field":"i2"},"y2":{"field":"p2"}}},
{"data":{"name":"segs"},"transform":[{"filter":"datum.k=='redthick'"}],"mark":{"type":"rule","color":"#cc0000","strokeWidth":3.5},"encoding":{"x2":{"field":"i2"},"y2":{"field":"p2"}}},
{"data":{"name":"segs"},"transform":[{"filter":"datum.k=='redthin'"}],"mark":{"type":"rule","color":"#cc0000","strokeWidth":1},"encoding":{"x2":{"field":"i2"},"y2":{"field":"p2"}}},
{"data":{"name":"segs"},"transform":[{"filter":"datum.k=='bluetop'"}],"mark":{"type":"rule","color":"#000099","strokeWidth":1.5},"encoding":{"x2":{"field":"i2"},"y2":{"field":"p2"}}},
{"data":{"name":"segs"},"transform":[{"filter":"datum.k=='greenbot'"}],"mark":{"type":"rule","color":"#007a00","strokeWidth":1.5},"encoding":{"x2":{"field":"i2"},"y2":{"field":"p2"}}},
{"data":{"name":"segs"},"transform":[{"filter":"datum.k=='dot'"}],"mark":{"type":"rule","color":"#000000","strokeWidth":1,"strokeDash":[2,2]},"encoding":{"x2":{"field":"i2"},"y2":{"field":"p2"}}},
{"data":{"name":"segs"},"transform":[{"filter":"datum.k=='mag'"}],"mark":{"type":"rule","color":"#ff00ff","strokeWidth":1.5},"encoding":{"x2":{"field":"i2"},"y2":{"field":"p2"}}},
{"data":{"name":"segs"},"transform":[{"filter":"datum.k=='pinktop'"}],"mark":{"type":"rule","color":"#f08080","strokeWidth":1.5},"encoding":{"x2":{"field":"i2"},"y2":{"field":"p2"}}},
{"data":{"name":"segs"},"transform":[{"filter":"datum.k=='blue96'"}],"mark":{"type":"rule","color":"#0000ff","strokeWidth":1.5},"encoding":{"x2":{"field":"i2"},"y2":{"field":"p2"}}},
{"data":{"name":"segs"},"transform":[{"filter":"datum.k=='darkred'"}],"mark":{"type":"rule","color":"#a00000","strokeWidth":1.5},"encoding":{"x2":{"field":"i2"},"y2":{"field":"p2"}}},
{"data":{"name":"segs"},"transform":[{"filter":"datum.k=='dashed'"}],"mark":{"type":"rule","color":"#111111","strokeWidth":1,"strokeDash":[6,5],"clip":true},"encoding":{"x2":{"field":"i2"},"y2":{"field":"p2"}}},
{"data":{"name":"segs"},"transform":[{"filter":"datum.k=='bluedot'"}],"mark":{"type":"rule","color":"#2a3cff","strokeWidth":1,"strokeDash":[1.5,2],"clip":true},"encoding":{"x2":{"field":"i2"},"y2":{"field":"p2"}}},
{"data":{"name":"segs"},"transform":[{"filter":"datum.k=='dashdot'"}],"mark":{"type":"rule","color":"#000000","strokeWidth":3,"strokeDash":[9,3,3,3],"clip":true},"encoding":{"x2":{"field":"i2"},"y2":{"field":"p2"}}},
{"data":{"name":"segs"},"transform":[{"filter":"datum.k=='arrow'"}],"mark":{"type":"rule","color":"#000000","strokeWidth":1},"encoding":{"x2":{"field":"i2"},"y2":{"field":"p2"}}},
{"data":{"values":[{"i":282.8,"p":148.25}]},"mark":{"type":"point","shape":"M-1,1L0,0L1,1","size":60,"filled":false,"stroke":"#000000","strokeWidth":1,"opacity":1}},
{"data":{"name":"candles"},"mark":{"type":"rule","color":"#6e6e6e","strokeWidth":1},
 "encoding":{"y":{"field":"l","type":"quantitative","title":null,"scale":{"domain":[76.58,198.22],"nice":false,"zero":false},
  "axis":{"orient":"right","values":[90,108,117,126,135,144,153,162,171,180,189],"format":".2f","grid":false,"ticks":false,"tickSize":0,"domain":false,"labelPadding":6,"labelFontSize":12,"labelColor":"#1a1a1a","labelFont":"Liberation Sans","labelOffset":-2,"labelOverlap":false,"title":null}},
  "y2":{"field":"h"}}},
{"data":{"name":"candles"},"mark":{"type":"bar","size":2.3},
 "encoding":{"y":{"field":"o","type":"quantitative","title":null,"scale":{"domain":[76.58,198.22],"nice":false,"zero":false},
  "axis":{"orient":"right","values":[90,108,117,126,135,144,153,162,171,180,189],"format":".2f","grid":false,"ticks":false,"tickSize":0,"domain":false,"labelPadding":6,"labelFontSize":12,"labelColor":"#1a1a1a","labelFont":"Liberation Sans","labelOffset":-2,"labelOverlap":false,"title":null}},
  "y2":{"field":"c"},
  "color":{"condition":{"test":"datum.c >= datum.o","value":"#26a326"},"value":"#e01b1b"}}},
{"data":{"name":"bands"},"transform":[{"filter":"datum.k=='red'"}],"mark":{"type":"rect","fill":null,"fillOpacity":0,"stroke":"#ff0000","strokeWidth":3},
 "encoding":{"x2":{"field":"i2"},"y2":{"field":"p2"}}},
{"data":{"name":"mm200"},"mark":{"type":"line","color":"#8b0000","strokeWidth":3,"clip":true}},
{"data":{"name":"mm20"},"mark":{"type":"line","color":"#0c12ff","strokeWidth":3.5,"clip":true}},
{"data":{"name":"tags"},"mark":{"type":"rect","clip":false},
 "encoding":{"x2":{"field":"i2"},"y2":{"field":"p2"},
  "color":{"field":"k","type":"nominal","legend":null,"scale":{"domain":["g","r"],"range":["#6b6b6b","#b00000"]}}}},
{"data":{"name":"texts"},"transform":[{"filter":"datum.k=='wht'"}],
 "mark":{"type":"text","align":"left","baseline":"middle","fontSize":12.5,"font":"Liberation Sans","color":"#ffffff"},
 "encoding":{"text":{"field":"t"}}}
]
}
